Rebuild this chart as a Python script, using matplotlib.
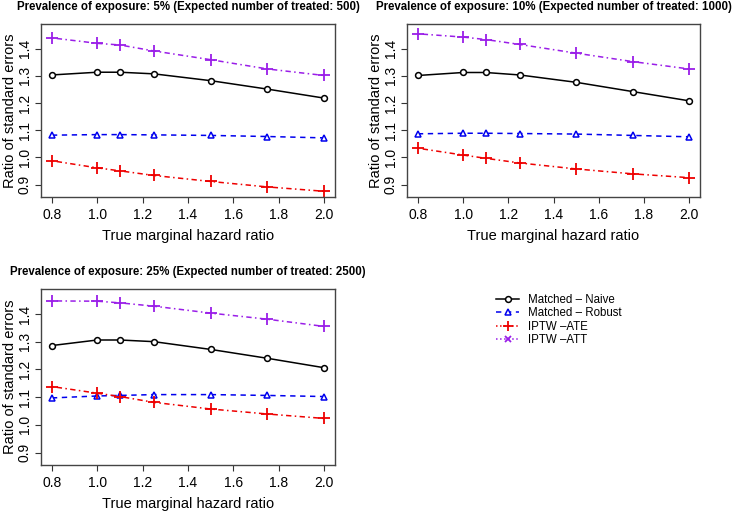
import numpy as np
import matplotlib
matplotlib.use('Agg')
import matplotlib.pyplot as plt
from matplotlib.lines import Line2D

plt.rcParams['font.family'] = ['Liberation Sans', 'DejaVu Sans']

# x: true marginal hazard ratio
hr = [0.8, 1.0, 1.1, 1.25, 1.5, 1.75, 2.0]

# prevalence 5%
naive_5 = [1.303, 1.313, 1.313, 1.307, 1.282, 1.251, 1.218]
robust_5 = [1.082, 1.084, 1.084, 1.083, 1.081, 1.077, 1.072]
ate_5 = [0.988, 0.962, 0.951, 0.934, 0.912, 0.892, 0.876]
att_5 = [1.439, 1.419, 1.413, 1.391, 1.359, 1.325, 1.301]

# prevalence 10%
naive_10 = [1.301, 1.312, 1.312, 1.303, 1.276, 1.242, 1.208]
robust_10 = [1.087, 1.089, 1.089, 1.088, 1.086, 1.081, 1.076]
ate_10 = [1.034, 1.009, 0.997, 0.980, 0.958, 0.940, 0.926]
att_10 = [1.454, 1.442, 1.433, 1.415, 1.383, 1.352, 1.325]

# prevalence 25%
naive_25 = [1.286, 1.306, 1.306, 1.300, 1.272, 1.240, 1.206]
robust_25 = [1.097, 1.104, 1.106, 1.109, 1.109, 1.106, 1.102]
ate_25 = [1.138, 1.114, 1.102, 1.081, 1.057, 1.039, 1.023]
att_25 = [1.447, 1.446, 1.440, 1.428, 1.403, 1.381, 1.355]

titles = ['Prevalence of exposure: 5% (Expected number of treated: 500)',
          'Prevalence of exposure: 10% (Expected number of treated: 1000)',
          'Prevalence of exposure: 25% (Expected number of treated: 2500)']
labels = ['Matched \u2013 Naive', 'Matched \u2013 Robust', 'IPTW \u2013ATE', 'IPTW \u2013ATT']

W, H = 734, 511
fig = plt.figure(figsize=(W / 100, H / 100), dpi=100)


def px_axes(l, t, r, b):
    return fig.add_axes([l / W, 1 - b / H, (r - l) / W, (b - t) / H])


panels = [
    (px_axes(41, 24, 335, 197), naive_5, robust_5, ate_5, att_5),
    (px_axes(407, 24, 700, 197), naive_10, robust_10, ate_10, att_10),
    (px_axes(41, 289, 335, 465), naive_25, robust_25, ate_25, att_25),
]

dashdot = (1, 2.2, 3.5, 2.2)
lw = 1.1

for i, (ax, nv, rb, ate, att) in enumerate(panels):
    ax.plot(hr, nv, color='black', lw=lw, marker='o', ms=4.2, mfc='white',
            mew=1.1, ls='-')
    ax.plot(hr, rb, color='#0000ee', lw=lw, marker='^', ms=5, mfc='white',
            mew=1.1, dashes=(3.5, 3))
    ax.plot(hr, ate, color='#ee0000', lw=lw, marker='+', ms=8, mew=1.3,
            dashes=dashdot)
    ax.plot(hr, att, color='#9a1ee8', lw=lw, marker='+', ms=8, mew=1.3,
            dashes=dashdot)
    ax.set_xlim(0.752, 2.048)
    ax.set_ylim(0.855, 1.49)
    ax.set_xticks([0.8, 1.0, 1.2, 1.4, 1.6, 1.8, 2.0])
    ax.set_xticklabels(['0.8', '1.0', '1.2', '1.4', '1.6', '1.8', '2.0'])
    ax.set_yticks([0.9, 1.0, 1.1, 1.2, 1.3, 1.4])
    ax.set_yticklabels(['0.9', '1.0', '1.1', '1.2', '1.3', '1.4'],
                       rotation=90, va='center')
    ax.tick_params(axis='both', labelsize=10, length=4, width=0.8,
                   color='#333333')
    ax.tick_params(axis='x', pad=4)
    ax.tick_params(axis='y', pad=2.5)
    for s in ax.spines.values():
        s.set_color('#444444')
        s.set_linewidth(1.0)
    ax.set_xlabel('True marginal hazard ratio', fontsize=10.5, labelpad=5)
    ax.set_ylabel('Ratio of standard errors', fontsize=10.5, labelpad=1)
    ax.set_title(titles[i], fontsize=8.3, fontweight='bold', pad=10)

handles = [
    Line2D([], [], color='black', lw=lw, marker='o', ms=4.2, mfc='white', mew=1.1),
    Line2D([], [], color='#0000ee', lw=lw, marker='^', ms=5, mfc='white', mew=1.1,
           dashes=(3.5, 3)),
    Line2D([], [], color='#ee0000', lw=lw, marker='+', ms=7, mew=1.3, ls=':'),
    Line2D([], [], color='#9a1ee8', lw=lw, marker='x', ms=5, mew=1.3, ls=':'),
]
fig.legend(handles, labels, loc='upper left', bbox_to_anchor=(496 / W, 1 - 294 / H),
           frameon=False, fontsize=8.3, handlelength=2.0, handletextpad=0.8,
           labelspacing=0.12, borderaxespad=0, borderpad=0)

fig.savefig('out.png', dpi=100)
